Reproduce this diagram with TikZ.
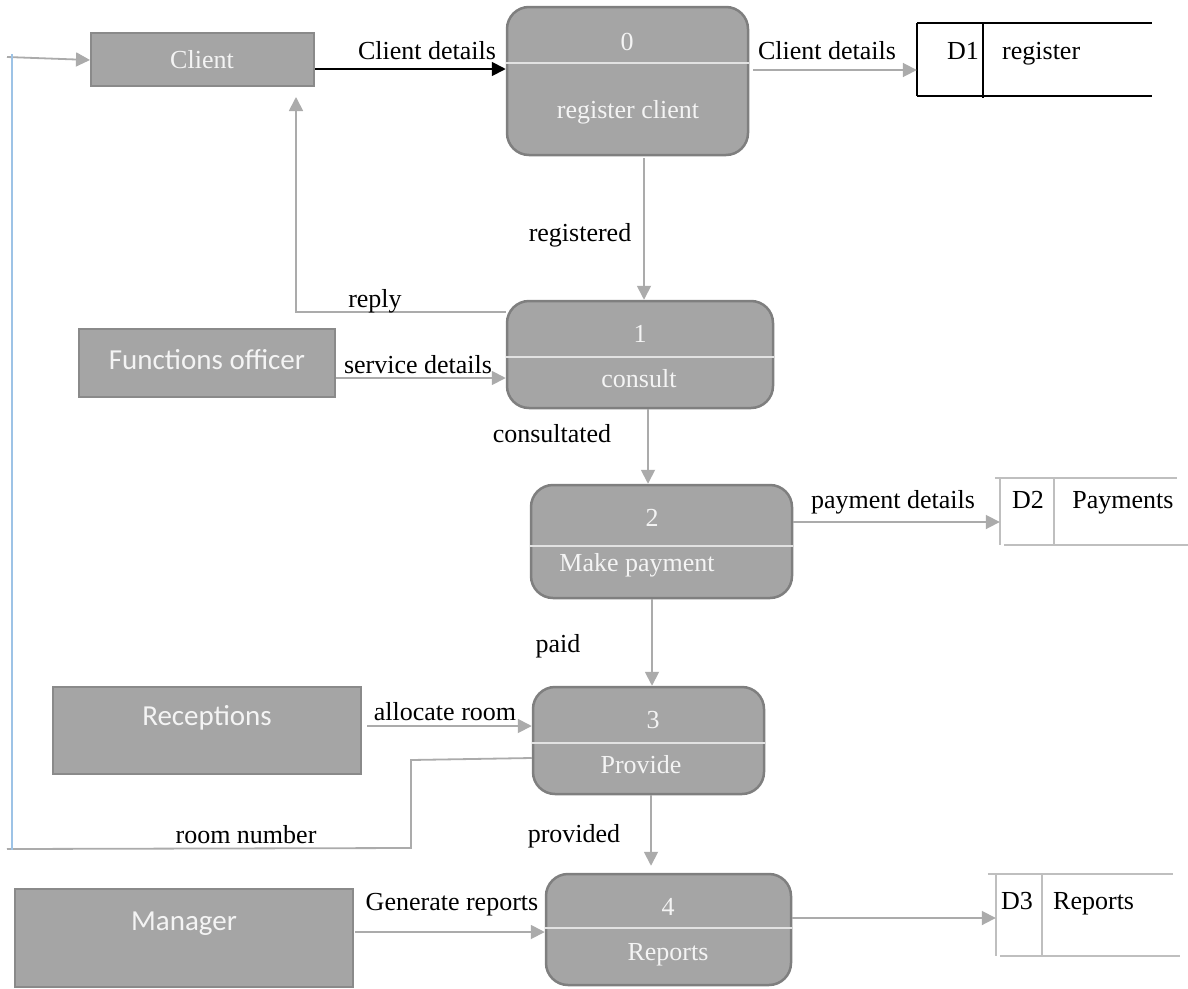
\documentclass[tikz,border=0pt]{standalone}
\usepackage{fontspec}
\setmainfont{Liberation Serif}
\newfontfamily\calibrifont{Carlito}
\usetikzlibrary{arrows.meta}

\definecolor{boxfill}{HTML}{A5A5A5}
\definecolor{procline}{HTML}{7F7F7F}
\definecolor{entline}{HTML}{8A8A8A}
\definecolor{flowgray}{HTML}{ABABAB}
\definecolor{divline}{HTML}{E2E2E2}
\definecolor{boxtext}{HTML}{F4F4F4}
\definecolor{loopblue}{HTML}{9DC3E6}
\definecolor{storegray}{HTML}{BFBFBF}

\tikzset{
  serif/.style={font=\fontsize{26}{30}\selectfont},
  sans/.style={font=\calibrifont\fontsize{29}{34}\selectfont},
  process/.style={draw=procline, line width=2.5pt, fill=boxfill, rounded corners=22pt, inner sep=0pt},
  entity/.style={draw=entline, line width=2pt, fill=boxfill, inner sep=0pt},
  storearea/.style={draw=none, inner sep=0pt},
  ptext/.style={serif, text=boxtext, inner sep=0pt, anchor=base},
  etext/.style={sans, text=boxtext, inner sep=0pt, anchor=base},
  lbl/.style={serif, text=black, inner sep=0pt, anchor=base},
  divider/.style={draw=divline, line width=1.5pt},
  flow/.style={draw=flowgray, line width=1.8pt},
  flowarr/.style={flow, -{Triangle[length=14pt,width=14pt]}},
  blackarr/.style={draw=black, line width=1.8pt, -{Triangle[length=14pt,width=14pt]}},
  blackstore/.style={draw=black, line width=1.6pt},
  graystore/.style={draw=storegray, line width=1.8pt},
  loopline/.style={draw=loopblue, line width=1.8pt},
}

\begin{document}
\begin{tikzpicture}[x=1pt,y=-1pt]
\useasboundingbox (0,0) rectangle (1188,988);

% external entities
\node[entity, minimum width=223pt, minimum height=53pt] (client) at (202.5,59.5) {};
\node[entity, minimum width=256pt, minimum height=68pt] (fo) at (207,363) {};
\node[entity, minimum width=308pt, minimum height=87pt] (rec) at (207,730.5) {};
\node[entity, minimum width=338pt, minimum height=98pt] (mgr) at (184,938) {};

\node[ptext] (clientt) at (202,68) {Client};
\node[etext] (fot) at (207,369) {Functions officer};
\node[etext] (rect) at (207,725) {Receptions};
\node[etext] (mgrt) at (184,930) {Manager};

% processes
\node[process, minimum width=241pt, minimum height=148pt] (p0) at (627.5,81) {};
\node[process, minimum width=266pt, minimum height=107pt] (p1) at (640,354.5) {};
\node[process, minimum width=261pt, minimum height=113pt] (p2) at (661.5,541.5) {};
\node[process, minimum width=231pt, minimum height=107pt] (p3) at (648.5,740.5) {};
\node[process, minimum width=245pt, minimum height=111pt] (p4) at (668.5,929.5) {};

% process dividers
\coordinate (h0) at (0,63);
\coordinate (h1) at (0,357);
\coordinate (h2) at (0,546);
\coordinate (h3) at (0,743);
\coordinate (h4) at (0,928);
\draw[divider] (p0.west |- h0) -- (p0.east |- h0);
\draw[divider] (p1.west |- h1) -- (p1.east |- h1);
\draw[divider] (p2.west |- h2) -- (p2.east |- h2);
\draw[divider] (p3.west |- h3) -- (p3.east |- h3);
\draw[divider] (p4.west |- h4) -- (p4.east |- h4);

% process labels
\node[ptext] (p0n) at (627,50) {0};
\node[ptext] (p0t) at (628,118) {register client};
\node[ptext] (p1n) at (640,342) {1};
\node[ptext] (p1t) at (639,387) {consult};
\node[ptext] (p2n) at (652,526) {2};
\node[ptext] (p2t) at (637,571) {Make payment};
\node[ptext] (p3n) at (653,728) {3};
\node[ptext] (p3t) at (641,773) {Provide};
\node[ptext] (p4n) at (668,915) {4};
\node[ptext] (p4t) at (668,960) {Reports};

% data stores
\node[storearea, minimum width=235pt, minimum height=73pt] (d1) at (1034.5,59.5) {};
\node[storearea, minimum width=188pt, minimum height=67pt] (d2) at (1094,511.5) {};
\node[storearea, minimum width=184pt, minimum height=82pt] (d3) at (1088,915) {};

\draw[blackstore] (d1.north west) -- (d1.north east);
\draw[blackstore] (d1.south west) -- (d1.south east);
\draw[blackstore] (d1.north west) -- (d1.south west);
\draw[blackstore] ([xshift=66pt]d1.north west) -- ([xshift=66pt,yshift=-2pt]d1.south west);

\draw[graystore] ([xshift=-5pt]d2.north west) -- ([xshift=-11pt]d2.north east);
\draw[graystore] ([xshift=4pt]d2.south west) -- (d2.south east);
\draw[graystore] (d2.north west) -- (d2.south west);
\draw[graystore] ([xshift=54pt]d2.north west) -- ([xshift=54pt]d2.south west);

\draw[graystore] ([xshift=-8pt]d3.north west) -- ([xshift=-7pt]d3.north east);
\draw[graystore] ([xshift=4pt]d3.south west) -- (d3.south east);
\draw[graystore] (d3.north west) -- (d3.south west);
\draw[graystore] ([xshift=46pt]d3.north west) -- ([xshift=46pt]d3.south west);

\node[lbl] (d1n) at (963,59) {D1};
\node[lbl, anchor=base west] (d1t) at (1002,59) {register};
\node[lbl] (d2n) at (1028,508) {D2};
\node[lbl] (d2t) at (1123,508) {Payments};
\node[lbl] (d3n) at (1017,909) {D3};
\node[lbl, anchor=base west] (d3t) at (1053,909) {Reports};

% helper levels for the flows
\coordinate (yc) at (0,69);
\coordinate (yd1) at (0,70);
\coordinate (yrep) at (0,312);
\coordinate (ysv) at (0,378);
\coordinate (yd2) at (0,522);
\coordinate (yal) at (0,726);
\coordinate (yrn) at (0,758);
\coordinate (ygr) at (0,932);
\coordinate (yd3) at (0,918);
\coordinate (x01) at (644,0);
\coordinate (x12) at (648,0);
\coordinate (x23) at (652,0);
\coordinate (x34) at (651,0);
\coordinate (replyend) at (296,97);
\coordinate (rnbend) at (411,760);
\coordinate (rncorner) at (411,848);
\coordinate (rnend) at (7,849);
\coordinate (loopstart) at (7,57);
\coordinate (bluetop) at (12,54);
\coordinate (bluebot) at (12,850);

% flows
\draw[blackarr] (client.east |- yc) -- (p0.west |- yc);
\draw[flowarr] (loopstart) -- ([yshift=-0.5pt]client.west);
\draw[flowarr, shorten <=4pt] (p0.east |- yd1) -- (d1.west |- yd1);
\draw[flowarr, shorten <=2pt] (p0.south -| x01) -- (p1.north -| x01);
\draw[flowarr] (p1.west |- yrep) -| (replyend);
\draw[flowarr] (fo.east |- ysv) -- (p1.west |- ysv);
\draw[flowarr] (p1.south -| x12) -- (p2.north -| x12);
\draw[flowarr] (p2.east |- yd2) -- (d2.west |- yd2);
\draw[flowarr] (p2.south -| x23) -- (p3.north -| x23);
\draw[flowarr, shorten <=5pt] (rec.east |- yal) -- (p3.west |- yal);
\draw[flow] (p3.west |- yrn) -- (rnbend) -- (rncorner) -- (rnend);
\draw[loopline] (bluetop) -- (bluebot);
\draw[flowarr, shorten >=7pt] (p3.south -| x34) -- (p4.north -| x34);
\draw[flowarr, shorten <=1pt] (mgr.east |- ygr) -- (p4.west |- ygr);
\draw[flowarr] (p4.east |- yd3) -- (d3.west |- yd3);

% flow labels
\node[lbl] (l1) at (427,59) {Client details};
\node[lbl] (l2) at (827,59) {Client details};
\node[lbl] (l3) at (580,241) {registered};
\node[lbl] (l4) at (375,307) {reply};
\node[lbl] (l5) at (418,373) {service details};
\node[lbl] (l6) at (552,442) {consultated};
\node[lbl] (l7) at (893,508) {payment details};
\node[lbl] (l8) at (558,652) {paid};
\node[lbl] (l9) at (445,720) {allocate room};
\node[lbl] (l10) at (246,843) {room number};
\node[lbl] (l11) at (574,842) {provided};
\node[lbl] (l12) at (452,910) {Generate reports};
\end{tikzpicture}
\end{document}
